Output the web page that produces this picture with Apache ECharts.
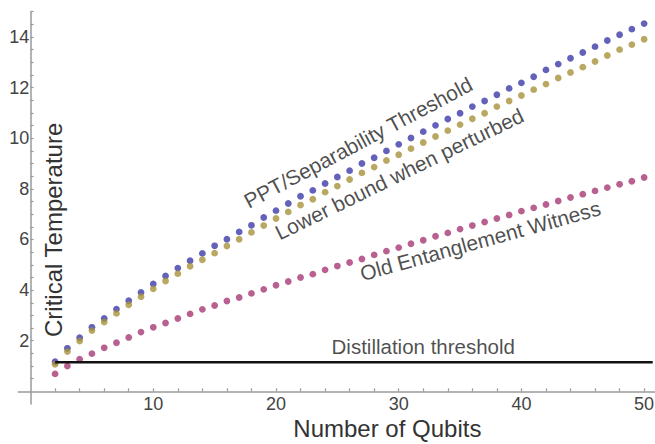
<!DOCTYPE html>
<html>
<head>
<meta charset="utf-8">
<title>Critical Temperature vs Number of Qubits</title>
<script src="https://cdn.jsdelivr.net/npm/echarts@6/dist/echarts.min.js"></script>
<style>
  html, body { margin: 0; padding: 0; background: #fff; }
  #chart { width: 655px; height: 444px; }
</style>
</head>
<body>
<div id="chart"></div>
<script>
// number of qubits, n = 2 .. 50
const qubits = [2, 3, 4, 5, 6, 7, 8, 9, 10, 11, 12, 13, 14, 15, 16, 17, 18, 19, 20, 21, 22, 23, 24, 25, 26,
  27, 28, 29, 30, 31, 32, 33, 34, 35, 36, 37, 38, 39, 40, 41, 42, 43, 44, 45, 46, 47, 48, 49, 50];

// critical temperatures
const pptThreshold = [1.17, 1.70, 2.12, 2.53, 2.88, 3.25, 3.58, 3.91, 4.24, 4.56, 4.87, 5.16, 5.45, 5.75, 6.01,
  6.30, 6.56, 6.87, 7.14, 7.42, 7.71, 7.94, 8.21, 8.47, 8.72, 9.00, 9.23, 9.50, 9.76, 10.01, 10.26, 10.51,
  10.76, 10.99, 11.25, 11.47, 11.72, 11.97, 12.19, 12.43, 12.70, 12.93, 13.16, 13.39, 13.62, 13.86, 14.09,
  14.31, 14.53];
const lowerBound = [1.07, 1.57, 1.99, 2.40, 2.74, 3.08, 3.42, 3.74, 4.05, 4.36, 4.65, 4.94, 5.20, 5.46, 5.74,
  6.01, 6.28, 6.55, 6.83, 7.09, 7.36, 7.59, 7.87, 8.11, 8.37, 8.63, 8.86, 9.12, 9.35, 9.59, 9.83, 10.07,
  10.30, 10.54, 10.77, 10.99, 11.25, 11.47, 11.69, 11.92, 12.14, 12.38, 12.60, 12.81, 13.03, 13.27, 13.50,
  13.70, 13.91];
const oldWitness = [0.69, 1.00, 1.27, 1.49, 1.72, 1.92, 2.13, 2.34, 2.53, 2.70, 2.88, 3.06, 3.24, 3.39, 3.57,
  3.71, 3.87, 4.03, 4.19, 4.34, 4.50, 4.63, 4.80, 4.95, 5.09, 5.23, 5.39, 5.54, 5.68, 5.83, 5.97, 6.13, 6.26,
  6.41, 6.55, 6.69, 6.83, 6.97, 7.12, 7.25, 7.38, 7.52, 7.66, 7.79, 7.92, 8.05, 8.18, 8.30, 8.45];
const distillation = [[2, 1.15], [50.7, 1.15]];

// axis ticks and labels
const xTickLabels = [10, 20, 30, 40, 50];
const yTickLabels = [2, 4, 6, 8, 10, 12, 14];
const xTicks = [2, 4, 6, 8, 10, 12, 14, 16, 18, 20, 22, 24, 26, 28, 30, 32, 34, 36, 38, 40, 42, 44, 46, 48, 50];
const yTicks = [0.5, 1, 1.5, 2, 2.5, 3, 3.5, 4, 4.5, 5, 5.5, 6, 6.5, 7, 7.5, 8, 8.5, 9, 9.5, 10, 10.5, 11,
  11.5, 12, 12.5, 13, 13.5, 14, 14.5, 15];

const font = "'Liberation Sans', Arial, sans-serif";
const axisGrey = '#9a9a9a';

function dots(name, values, color) {
  return {
    name: name,
    type: 'scatter',
    symbol: 'circle',
    symbolSize: 6.8,
    itemStyle: { color: color },
    data: qubits.map((n, i) => [n, values[i]])
  };
}

const chart = echarts.init(document.getElementById('chart'), null, { renderer: 'svg' });

chart.setOption({
  animation: false,
  grid: { left: 18.3, right: -1.4, top: 11.7, bottom: 40, containLabel: false, outerBoundsMode: 'none' },
  xAxis: {
    type: 'value',
    min: -1,
    max: 51,
    name: 'Number of Qubits',
    nameLocation: 'middle',
    nameGap: 12,
    nameMoveOverlap: false,
    nameTextStyle: { fontSize: 24, color: '#333', fontFamily: font, padding: [0, 0, 0, 100] },
    axisLine: { onZero: true, lineStyle: { color: axisGrey, width: 1.5 } },
    axisTick: { show: true, inside: true, length: 3, customValues: xTicks, lineStyle: { color: axisGrey, width: 1.2 } },
    axisLabel: { customValues: xTickLabels, margin: -9.5, fontSize: 18, color: '#444', fontFamily: font },
    splitLine: { show: false }
  },
  yAxis: {
    type: 'value',
    min: -0.5,
    max: 15,
    name: 'Critical Temperature',
    nameLocation: 'middle',
    nameGap: -47,
    nameMoveOverlap: false,
    nameTextStyle: { fontSize: 24, color: '#333', fontFamily: font, padding: [0, 44, 0, 0] },
    axisLine: { onZero: true, lineStyle: { color: axisGrey, width: 1.5 } },
    axisTick: { show: true, inside: true, length: 3, customValues: yTicks, lineStyle: { color: axisGrey, width: 1.2 } },
    axisLabel: { customValues: yTickLabels, margin: -11, fontSize: 18, color: '#444', fontFamily: font },
    splitLine: { show: false }
  },
  series: [
    {
      name: 'Distillation threshold',
      type: 'line',
      symbol: 'none',
      lineStyle: { color: '#111', width: 2.6 },
      data: distillation
    },
    dots('PPT/Separability Threshold', pptThreshold, '#3c3aa8'),
    dots('Lower bound when perturbed', lowerBound, '#a8923a'),
    dots('Old Entanglement Witness', oldWitness, '#a63a74'),
    {
      // text annotations along the curves
      type: 'scatter',
      silent: true,
      symbolSize: 1,
      itemStyle: { color: 'rgba(0,0,0,0)' },
      label: {
        show: true,
        position: 'inside',
        align: 'center',
        verticalAlign: 'middle',
        formatter: p => p.name,
        color: '#1e1e1e',
        fontSize: 21,
        fontFamily: font
      },
      data: [
        { name: 'PPT/Separability Threshold', value: [26.7, 9.83], label: { rotate: 28 } },
        { name: 'Lower bound when perturbed', value: [30.05, 8.59], label: { rotate: 26 } },
        { name: 'Old Entanglement Witness', value: [36.65, 5.95], label: { rotate: 15.5 } },
        { name: 'Distillation threshold', value: [32.0, 1.76], label: { fontSize: 20.5 } }
      ]
    }
  ]
});
</script>
</body>
</html>
